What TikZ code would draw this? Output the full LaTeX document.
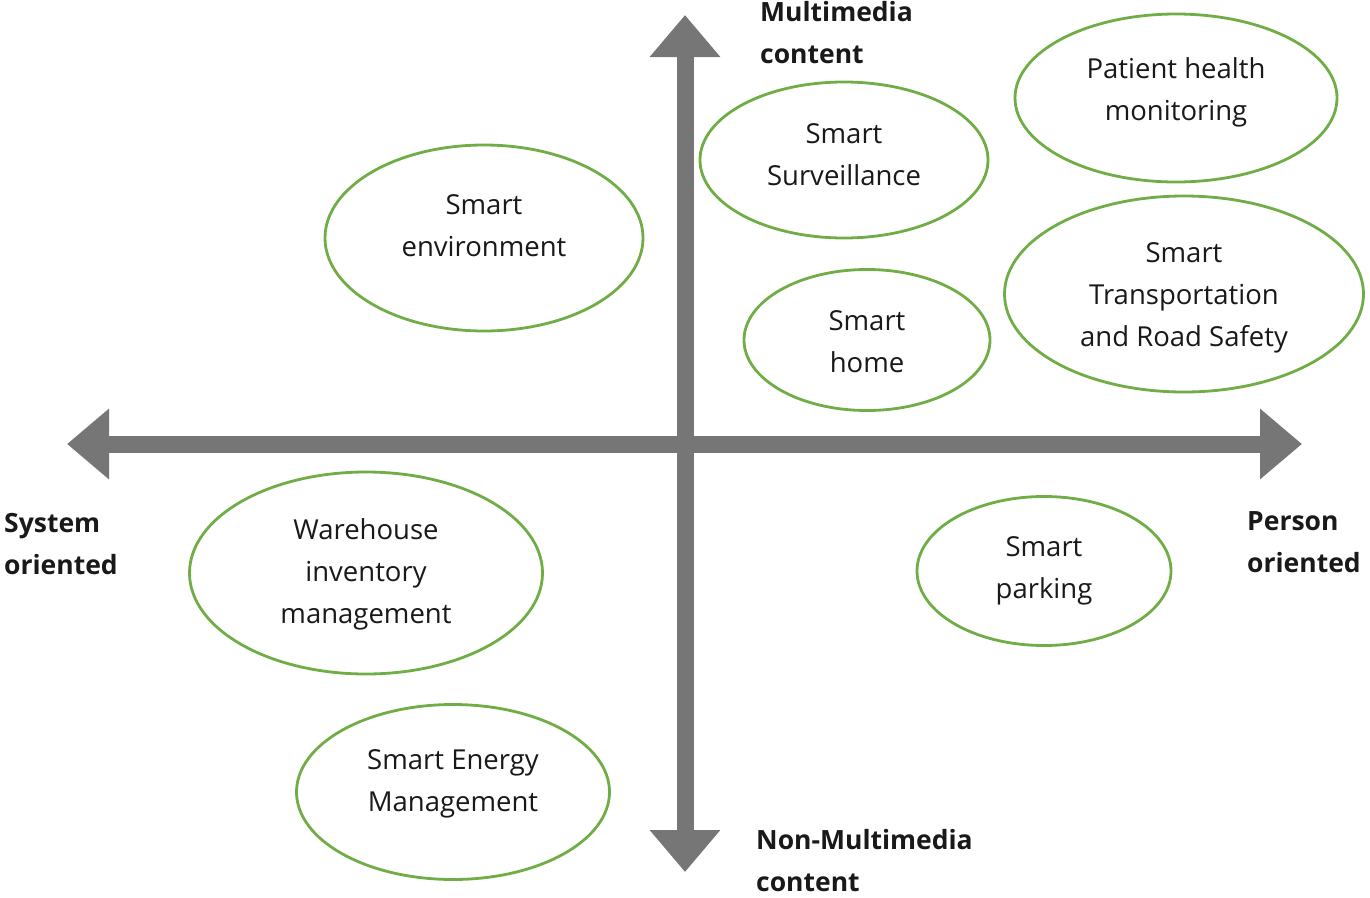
\documentclass[tikz,border=0pt]{standalone}
\usepackage{fontspec}
\setmainfont{Open Sans}
\usetikzlibrary{arrows.meta,shapes.geometric}
\definecolor{axisgray}{RGB}{118,118,118}
\definecolor{leafgreen}{RGB}{112,173,71}
\tikzstyle{axis} = [line width=17pt,draw=axisgray,{Triangle[width=68pt,length=42pt]}-{Triangle[width=68pt,length=42pt]}]
\tikzstyle{bubble} = [ellipse, draw=leafgreen, line width=2.8pt, inner sep=0pt]
\tikzstyle{bubtext} = [align=center, inner sep=0pt, text=black!90, font=\fontsize{27.5}{42}\selectfont]
\tikzstyle{axlabel} = [align=left, anchor=west, inner sep=0pt, text=black!90, font=\bfseries\fontsize{26.5}{42}\selectfont]

\begin{document}
\begin{tikzpicture}[x=1pt,y=-1pt]
        \useasboundingbox (0,0) rectangle (1370,897);
        \coordinate (top) at (685,15);
        \coordinate (bottom) at (685,872);
        \coordinate (left) at (67,444);
        \coordinate (right) at (1302,444);
        %
        \draw [axis] (left) -- (right);
        \draw [axis] (bottom) -- (top);
        %
        \node (multi) [axlabel] at (760,33) {Multimedia\\content};
        \node (nonmulti) [axlabel] at (756,861) {Non-Multimedia\\content};
        \node (system) [axlabel] at (4,544) {System\\oriented};
        \node (person) [axlabel] at (1247,542) {Person\\oriented};
        %
        \node (env) [bubble,minimum width=318,minimum height=186] at (484,238) {};
        \node (envtext) [bubtext] at (484,226) {Smart\\environment};
        \node (surv) [bubble,minimum width=288,minimum height=156] at (844,160) {};
        \node (survtext) [bubtext] at (844,155) {Smart\\Surveillance};
        \node (patient) [bubble,minimum width=322,minimum height=168] at (1176,98) {};
        \node (patienttext) [bubtext] at (1176,92) {Patient health\\monitoring};
        \node (home) [bubble,minimum width=246,minimum height=141] at (867,340) {};
        \node (hometext) [bubtext] at (867,342) {Smart\\home};
        \node (transport) [bubble,minimum width=359,minimum height=196] at (1184,294) {};
        \node (transporttext) [bubtext] at (1184,298) {Smart\\Transportation\\and Road Safety};
        \node (warehouse) [bubble,minimum width=353,minimum height=202] at (366,573) {};
        \node (warehousetext) [bubtext] at (366,574) {Warehouse\\inventory\\management};
        \node (parking) [bubble,minimum width=254,minimum height=149] at (1044,571) {};
        \node (parkingtext) [bubtext] at (1044,571) {Smart\\parking};
        \node (energy) [bubble,minimum width=313,minimum height=175] at (453,792) {};
        \node (energytext) [bubtext] at (453,784) {Smart Energy\\Management};
    \end{tikzpicture}
\end{document}
